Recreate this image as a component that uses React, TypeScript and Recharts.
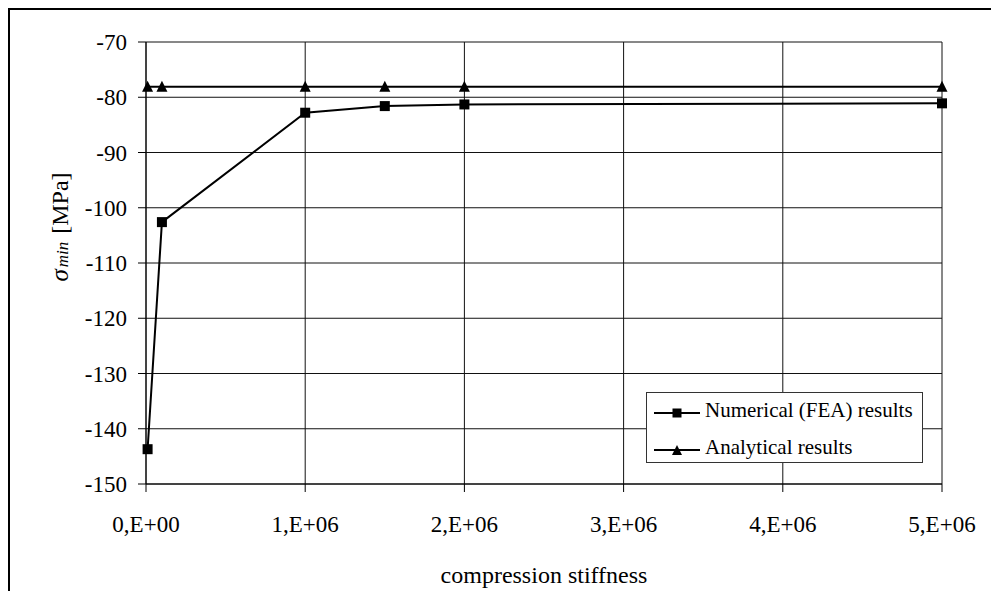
import { LineChart, Line, XAxis, YAxis, CartesianGrid, Legend } from 'recharts';

// compression stiffness values
const stiffness = [1e4, 1e5, 1e6, 1.5e6, 2e6, 5e6];
// sigma min, numerical (FEA)
const numerical = [-143.7, -102.6, -82.8, -81.6, -81.3, -81.1];
// sigma min, analytical
const analytical = [-78.1, -78.1, -78.1, -78.1, -78.1, -78.1];

const xTicks = [0, 1e6, 2e6, 3e6, 4e6, 5e6];
const yTicks = [-150, -140, -130, -120, -110, -100, -90, -80, -70];

const seriesNames = ['Numerical (FEA) results', 'Analytical results'];

const data = stiffness.map((x, i) => ({ x, num: numerical[i], ana: analytical[i] }));

const FONT = '"Liberation Serif", "Times New Roman", serif';
const tickStyle = { fontSize: 23, fontFamily: FONT, fill: '#000' };

const fmtX = (v: number) => {
    const e = v === 0 ? 0 : Math.floor(Math.log10(v));
    const m = Math.round(v / Math.pow(10, e));
    return `${m},E+${String(e).padStart(2, '0')}`;
};

const renderXTick = (props: any) => {
    const { x, y, payload, index } = props;
    return (
        <text key={`xt-${index}`} x={x} y={y} dy="0.71em" textAnchor="middle" style={tickStyle}>
            {fmtX(payload.value)}
        </text>
    );
};

const renderYTick = (props: any) => {
    const { x, y, payload, index } = props;
    return (
        <text key={`yt-${index}`} x={x} y={y} dy="0.35em" textAnchor="end" style={tickStyle}>
            {payload.value}
        </text>
    );
};

const SquareDot = (props: any) => {
    const { cx, cy, index } = props;
    return <rect key={`sq-${index}`} x={cx - 5} y={cy - 5} width={10} height={10} fill="#000" />;
};

const TriDot = (props: any) => {
    const { cx, cy, index } = props;
    return <path key={`tr-${index}`} d={`M${cx - 5.5},${cy + 5} L${cx + 5.5},${cy + 5} L${cx},${cy - 6} Z`} fill="#000" />;
};

const LegendBox = () => (
    <div style={{ width: 275, height: 69, border: '1px solid #333', background: '#fff', fontFamily: FONT, fontSize: 21, color: '#000' }}>
        {seriesNames.map((name, i) => (
            <div key={name} style={{ position: 'relative', height: 37, marginTop: i === 0 ? 1 : 0 }}>
                <svg width={50} height={20} style={{ position: 'absolute', left: 6, top: 9 }}>
                    <line x1={1} y1={10} x2={47} y2={10} stroke="#000" strokeWidth={2} />
                    {i === 0 ? (
                        <rect x={19.5} y={5.5} width={9} height={9} fill="#000" />
                    ) : (
                        <path d="M19,15 L29,15 L24,5 Z" fill="#000" />
                    )}
                </svg>
                <span style={{ position: 'absolute', left: 58, top: 4, whiteSpace: 'nowrap' }}>{name}</span>
            </div>
        ))}
    </div>
);

const App = () => {
    return (
        <div style={{ position: 'fixed', left: 8, top: 8, width: 983, height: 583, overflow: 'hidden' }}>
            <div style={{ width: 1100, height: 700, border: '2px solid #000', background: '#fff', position: 'relative' }}>
                <LineChart width={1000} height={600} data={data} margin={{ top: 32, right: 68, left: 0, bottom: 0 }}
                    style={{ fontFamily: FONT }}>
                    <CartesianGrid stroke="#111" strokeWidth={1} />
                    <XAxis dataKey="x" type="number" domain={[0, 5e6]} ticks={xTicks}
                        height={126} tickSize={8} tickMargin={24} stroke="#000" tick={renderXTick}
                        label={{
                            content: (p: any) => {
                                const vb = p.viewBox || { x: 136, width: 796 };
                                return (
                                    <text x={vb.x + vb.width / 2} y={573} textAnchor="middle" style={{ fontSize: 24, fontFamily: FONT, fill: '#000' }}>
                                        compression stiffness
                                    </text>
                                );
                            },
                        }} />
                    <YAxis type="number" domain={[-150, -70]} ticks={yTicks} width={136} tickSize={8} tickMargin={11}
                        stroke="#000" tick={renderYTick}
                        label={{
                            content: () => (
                                <text transform="translate(58,217) rotate(-90)" textAnchor="middle" style={{ fontFamily: FONT, fill: '#000' }}>
                                    <tspan style={{ fontSize: 25, fontStyle: 'italic' }}>σ</tspan>
                                    <tspan style={{ fontSize: 17, fontStyle: 'italic' }} dx={2}>min</tspan>
                                    <tspan style={{ fontSize: 24 }} dx={8}>[MPa]</tspan>
                                </text>
                            ),
                        }} />
                    <Legend verticalAlign="middle" align="center" content={() => <LegendBox />}
                        wrapperStyle={{ position: 'absolute', left: 636, top: 382, width: 'auto', height: 'auto' }} />
                    <Line type="linear" dataKey="num" name={seriesNames[0]} stroke="#000" strokeWidth={2}
                        dot={SquareDot} activeDot={false} isAnimationActive={false} />
                    <Line type="linear" dataKey="ana" name={seriesNames[1]} stroke="#000" strokeWidth={2}
                        dot={TriDot} activeDot={false} isAnimationActive={false} />
                </LineChart>
            </div>
        </div>
    );
};

export default App;
